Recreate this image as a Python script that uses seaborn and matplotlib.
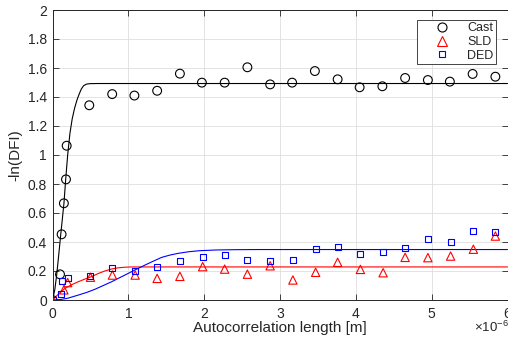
import matplotlib
matplotlib.use("Agg")
import matplotlib.pyplot as plt
from matplotlib.lines import Line2D
import seaborn as sns

# ---- data (x in units of 1e-6 m) ----
cast_x = [0, 0.099, 0.12, 0.15, 0.178, 0.187, 0.485, 0.787, 1.08, 1.38, 1.68, 1.97, 2.27,
          2.57, 2.87, 3.16, 3.46, 3.76, 4.05, 4.35, 4.65, 4.95, 5.24, 5.54, 5.84]
cast_y = [0, 0.177, 0.453, 0.667, 0.832, 1.064, 1.343, 1.42, 1.41, 1.443, 1.561, 1.499, 1.499,
          1.605, 1.487, 1.499, 1.579, 1.522, 1.467, 1.474, 1.531, 1.517, 1.506, 1.559, 1.54]

sld_x = [0, 0.15, 0.2, 0.5, 0.79, 1.09, 1.38, 1.68, 1.98, 2.27, 2.57, 2.87, 3.17,
         3.47, 3.76, 4.06, 4.36, 4.65, 4.95, 5.25, 5.55, 5.84]
sld_y = [0, 0.07, 0.12, 0.157, 0.172, 0.172, 0.149, 0.163, 0.23, 0.213, 0.178, 0.236, 0.138,
         0.191, 0.26, 0.211, 0.188, 0.294, 0.292, 0.303, 0.35, 0.441]

ded_x = [0, 0.108, 0.129, 0.2, 0.49, 0.79, 1.09, 1.38, 1.68, 1.98, 2.27, 2.57, 2.87, 3.17,
         3.47, 3.76, 4.06, 4.36, 4.65, 4.95, 5.25, 5.55, 5.84]
ded_y = [0, 0.041, 0.131, 0.154, 0.166, 0.223, 0.2, 0.23, 0.272, 0.298, 0.309, 0.276, 0.271, 0.276,
         0.354, 0.363, 0.317, 0.331, 0.356, 0.421, 0.398, 0.474, 0.467]

# fitted curves
cast_fit_x = [0, 0.03, 0.055, 0.08, 0.108, 0.13, 0.151, 0.174, 0.2, 0.23, 0.26, 0.29, 0.32,
              0.35, 0.38, 0.41, 0.45, 0.49, 0.6, 6]
cast_fit_y = [0, 0.07, 0.172, 0.30, 0.448, 0.56, 0.667, 0.832, 1.0, 1.15, 1.25, 1.32, 1.375,
              1.418, 1.455, 1.478, 1.489, 1.492, 1.493, 1.493]

sld_fit_x = [0, 0.08, 0.164, 0.25, 0.34, 0.43, 0.515, 0.6, 0.69, 0.78, 0.866, 0.95, 1.04, 6]
sld_fit_y = [0, 0.042, 0.08, 0.105, 0.126, 0.145, 0.161, 0.182, 0.2, 0.214, 0.222, 0.226, 0.228, 0.228]

ded_fit_x = [0, 0.1, 0.2, 0.34, 0.45, 0.56, 0.67, 0.78, 0.89, 1.0, 1.11, 1.22, 1.33, 1.44,
             1.55, 1.66, 1.8, 1.94, 2.16, 2.4, 2.7, 3.2, 6]
ded_fit_y = [0, 0.003, 0.012, 0.034, 0.052, 0.074, 0.1, 0.126, 0.155, 0.184, 0.213, 0.241, 0.268, 0.294,
             0.31, 0.322, 0.333, 0.34, 0.345, 0.347, 0.348, 0.348, 0.348]

labels = ["Cast", "SLD", "DED"]
colors = ["black", "#ff0000", "#0000ff"]
markers = ["o", "^", "s"]
sizes = [40, 36, 19]

sns.set_theme(style="ticks")
plt.rcParams["font.family"] = ["Liberation Sans", "DejaVu Sans"]
plt.rcParams["mathtext.fontset"] = "custom"
plt.rcParams["mathtext.rm"] = "Liberation Sans"

fig = plt.figure(figsize=(5.08, 3.42), dpi=100)
ax = fig.add_axes([52.5 / 508, 42 / 342, (507.5 - 52.5) / 508, 290 / 342])

fits = [(cast_fit_x, cast_fit_y), (sld_fit_x, sld_fit_y), (ded_fit_x, ded_fit_y)]
pts = [(cast_x, cast_y), (sld_x, sld_y), (ded_x, ded_y)]

for (fx, fy), c in zip(fits, colors):
    sns.lineplot(x=fx, y=fy, color=c, linewidth=0.8, ax=ax, sort=False, zorder=3)

for (px, py), c, m, s in zip(pts, colors, markers, sizes):
    sns.scatterplot(x=px, y=py, marker=m, s=s, facecolor="none", edgecolor=c,
                    linewidth=0.8, ax=ax, zorder=4)

ax.set_xlim(0, 6)
ax.set_ylim(0, 2)
ax.set_xticks(range(0, 7))
ax.set_xticklabels([str(i) for i in range(0, 7)])
yt = [i * 0.2 for i in range(11)]
ax.set_yticks(yt)
ax.set_yticklabels(["0", "0.2", "0.4", "0.6", "0.8", "1", "1.2", "1.4", "1.6", "1.8", "2"])

ax.grid(True, color="#dedede", linewidth=0.6, zorder=0)
ax.set_axisbelow(True)
for sp in ax.spines.values():
    sp.set_visible(True)
    sp.set_color("#262626")
    sp.set_linewidth(0.7)
ax.tick_params(direction="in", length=4, width=0.6, top=True, right=True,
               labelsize=10, colors="#262626")
ax.tick_params(axis="x", pad=5)
ax.tick_params(axis="y", pad=4)

ax.set_xlabel("Autocorrelation length [m]", fontsize=11, color="#262626", labelpad=0)
ax.set_ylabel("-ln(DFI)", fontsize=11, color="#262626", labelpad=4)
ax.text(1.003, -0.068, r"$\times\mathregular{10^{-6}}$", transform=ax.transAxes, ha="right", va="top",
        fontsize=9.5, color="#262626")

handles = [Line2D([], [], linestyle="none", marker=m, markersize=ms, markerfacecolor="none",
                  markeredgecolor=c, markeredgewidth=0.8)
           for m, c, ms in zip(markers, colors, [6.5, 6.5, 4.4])]
leg = ax.legend(handles, labels, loc="upper right", bbox_to_anchor=(0.975, 0.967),
                fontsize=9, frameon=True, fancybox=False, framealpha=1,
                handlelength=3.6, handletextpad=0.2, borderpad=0.2, labelspacing=0.15,
                borderaxespad=0)
leg.get_frame().set_edgecolor("#262626")
leg.get_frame().set_linewidth(0.6)

fig.savefig("out.png", dpi=100)
